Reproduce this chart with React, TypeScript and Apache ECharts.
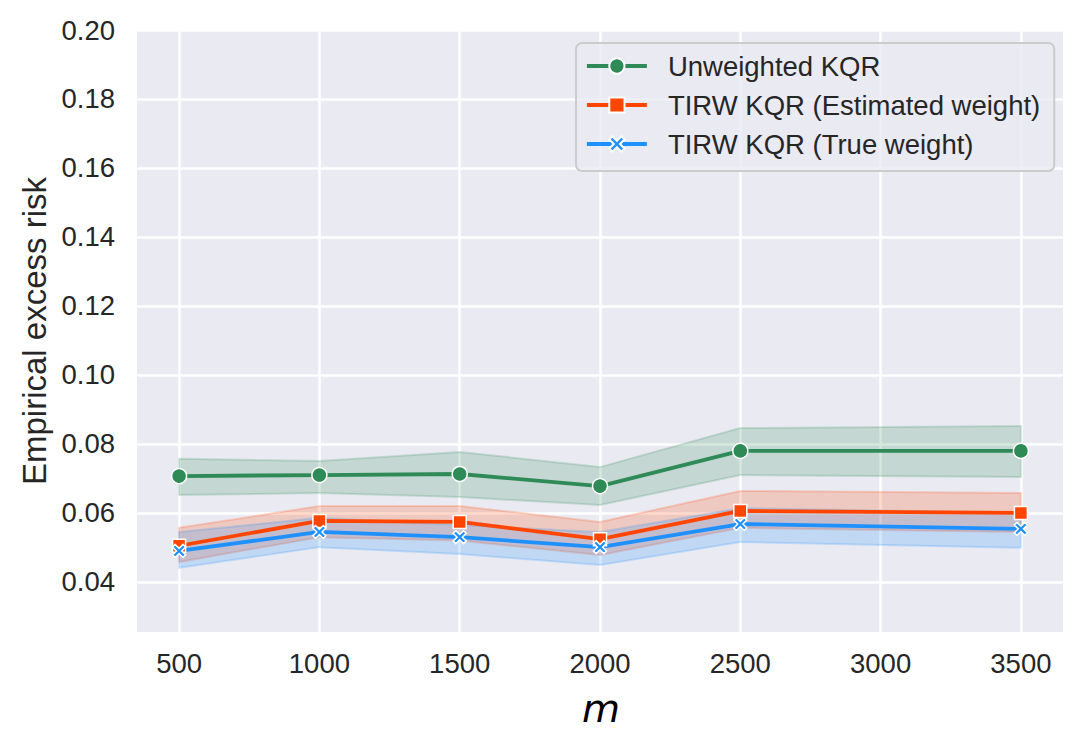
import React, { useEffect, useRef } from "react";
import * as echarts from "echarts";

const xValues = [500, 1000, 1500, 2000, 2500, 3500];
const xTicks = [500, 1000, 1500, 2000, 2500, 3000, 3500];
const yTicks = [0.04, 0.06, 0.08, 0.1, 0.12, 0.14, 0.16, 0.18, 0.2];

const seriesNames = [
  "Unweighted KQR",
  "TIRW KQR (Estimated weight)",
  "TIRW KQR (True weight)",
];

const unweightedMean = [0.0707, 0.071, 0.0713, 0.0678, 0.078, 0.078];
const unweightedLow = [0.0652, 0.0658, 0.0646, 0.0623, 0.071, 0.0704];
const unweightedHigh = [0.0757, 0.0751, 0.0777, 0.0733, 0.0846, 0.0852];

const estimatedMean = [0.0505, 0.0577, 0.0574, 0.0524, 0.0606, 0.06];
const estimatedLow = [0.0458, 0.053, 0.052, 0.0478, 0.0557, 0.0545];
const estimatedHigh = [0.0557, 0.062, 0.062, 0.0574, 0.0664, 0.0658];

const trueMean = [0.049, 0.0545, 0.053, 0.0501, 0.0568, 0.0554];
const trueLow = [0.0441, 0.0501, 0.0481, 0.0449, 0.0516, 0.0499];
const trueHigh = [0.0545, 0.0586, 0.0565, 0.0545, 0.0614, 0.06];

const colors = ["#2e8b57", "#ff4500", "#1e90ff"];
const bandFills = [
  "rgba(46,139,87,0.2)",
  "rgba(255,69,0,0.2)",
  "rgba(30,144,255,0.2)",
];

const X_PATH =
  "path://M2,0 L5,3 L8,0 L10,2 L7,5 L10,8 L8,10 L5,7 L2,10 L0,8 L3,5 L0,2 Z";

const FONT = "'Liberation Sans', Arial, Helvetica, sans-serif";
const TEXT = "#262626";

function bandSeries(low: number[], high: number[], fill: string, z: number) {
  return {
    type: "custom",
    silent: true,
    z,
    data: xValues.map((x, i) => [x, low[i], high[i]]),
    encode: { x: 0, y: [1, 2] },
    renderItem: (params: any, api: any) => {
      if (params.dataIndex !== 0) return null;
      const upper = xValues.map((x, i) => api.coord([x, high[i]]));
      const lower = xValues.map((x, i) => api.coord([x, low[i]])).reverse();
      return {
        type: "polygon",
        shape: { points: [...upper, ...lower] },
        style: { fill, stroke: fill, lineWidth: 2 },
      };
    },
  };
}

function lineSeries(
  name: string,
  values: number[],
  color: string,
  symbol: string,
  symbolSize: number
) {
  return {
    type: "line",
    name,
    z: 5,
    data: xValues.map((x, i) => [x, values[i]]),
    symbol,
    symbolSize,
    showSymbol: true,
    lineStyle: { color, width: 3.8 },
    itemStyle: { color, borderColor: "#ffffff", borderWidth: 1.5 },
  };
}

export default function App() {
  const ref = useRef<HTMLDivElement>(null);

  useEffect(() => {
    document.body.style.margin = "0";
    if (!ref.current) return;
    const chart = echarts.init(ref.current, undefined, { renderer: "svg" });
    chart.setOption({
      animation: false,
      backgroundColor: "#ffffff",
      textStyle: { fontFamily: FONT },
      grid: {
        left: 137,
        right: 22,
        top: 30,
        bottom: 116,
        show: true,
        backgroundColor: "#eaeaf2",
        borderWidth: 0,
      },
      xAxis: {
        type: "value",
        min: 350,
        max: 3650,
        minInterval: 500,
        maxInterval: 500,
        axisLine: { show: false },
        axisTick: { show: false },
        axisLabel: {
          color: TEXT,
          fontSize: 27.5,
          fontFamily: FONT,
          margin: 17,
          showMinLabel: false,
          showMaxLabel: false,
          formatter: (v: number) => (xTicks.includes(v) ? String(v) : ""),
        },
        splitLine: {
          show: true,
          showMinLine: false,
          showMaxLine: false,
          lineStyle: { color: "#ffffff", width: 2.5 },
        },
      },
      yAxis: {
        type: "value",
        min: 0.0255,
        max: 0.2,
        minInterval: 0.02,
        maxInterval: 0.02,
        axisLine: { show: false },
        axisTick: { show: false },
        axisLabel: {
          color: TEXT,
          fontSize: 27.5,
          fontFamily: FONT,
          margin: 22,
          showMinLabel: false,
          formatter: (v: number) =>
            yTicks.some((t) => Math.abs(t - v) < 1e-9) ? v.toFixed(2) : "",
        },
        splitLine: {
          show: true,
          showMinLine: false,
          lineStyle: { color: "#ffffff", width: 2.5 },
        },
      },
      legend: {
        orient: "vertical",
        left: 576,
        top: 43,
        padding: [9, 14, 13, 9],
        itemWidth: 60,
        itemHeight: 19,
        itemGap: 11,
        backgroundColor: "rgba(234,234,242,0.8)",
        borderColor: "#cccccc",
        borderWidth: 2,
        borderRadius: 6,
        data: seriesNames,
        lineStyle: { width: 3.8 },
        textStyle: {
          color: TEXT,
          fontSize: 27.5,
          fontFamily: FONT,
          padding: [0, 0, 0, 16],
        },
      },
      graphic: [
        {
          type: "text",
          x: 34,
          y: 331,
          rotation: Math.PI / 2,
          style: {
            text: "Empirical excess risk",
            font: `33px ${FONT}`,
            fill: TEXT,
            align: "center",
            verticalAlign: "middle",
          },
        },
        {
          type: "text",
          x: 601,
          y: 708,
          style: {
            text: "m",
            font: `italic 39px 'DejaVu Sans', sans-serif`,
            fill: "#000000",
            align: "center",
            verticalAlign: "middle",
          },
        },
      ],
      series: [
        bandSeries(unweightedLow, unweightedHigh, bandFills[0], 1),
        bandSeries(estimatedLow, estimatedHigh, bandFills[1], 1),
        bandSeries(trueLow, trueHigh, bandFills[2], 1),
        lineSeries(seriesNames[0], unweightedMean, colors[0], "circle", 15),
        lineSeries(seriesNames[1], estimatedMean, colors[1], "rect", 13),
        lineSeries(seriesNames[2], trueMean, colors[2], X_PATH, 13),
      ],
    });
    return () => chart.dispose();
  }, []);

  return <div ref={ref} style={{ width: 1085, height: 748 }} />;
}
